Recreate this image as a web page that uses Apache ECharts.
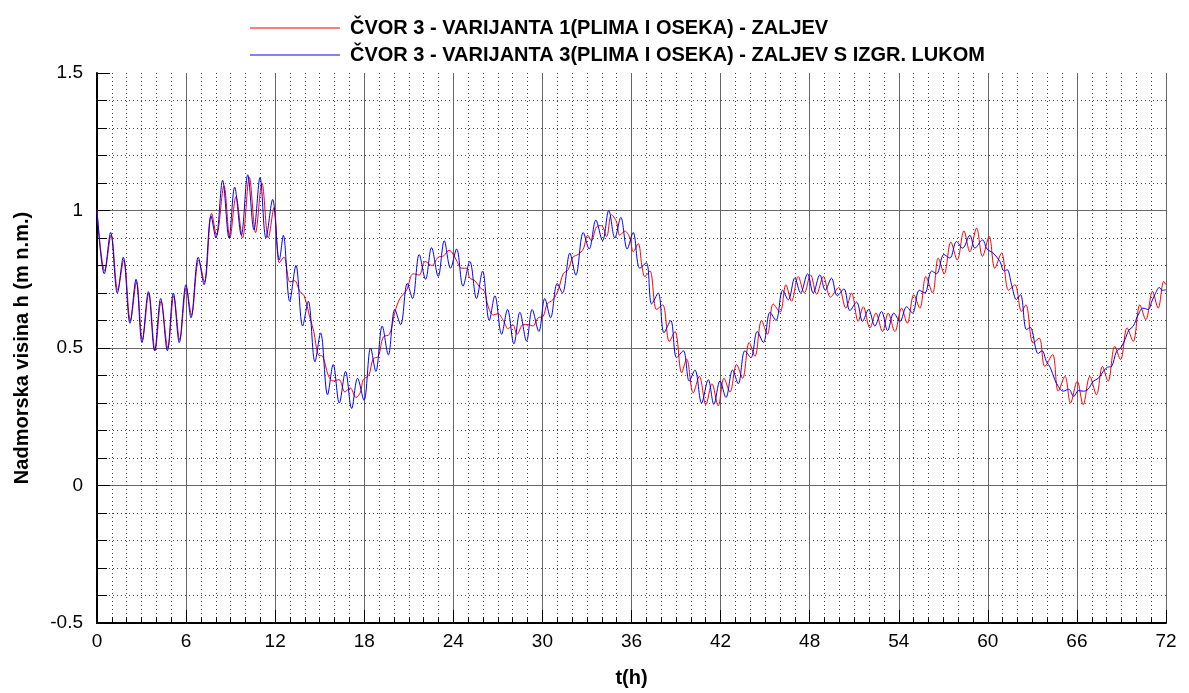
<!DOCTYPE html>
<html>
<head>
<meta charset="utf-8">
<script src="https://cdn.jsdelivr.net/npm/echarts@6/dist/echarts.min.js"></script>
<style>
html,body{margin:0;padding:0;background:#fff;}
#chart{width:1189px;height:693px;}
</style>
</head>
<body>
<div id="chart"></div>
<script>
// Legend / series names
const seriesNames = [
  'ČVOR 3 - VARIJANTA 1(PLIMA I OSEKA) - ZALJEV',
  'ČVOR 3 - VARIJANTA 3(PLIMA I OSEKA) - ZALJEV S IZGR. LUKOM'
];
const xTitle = 't(h)';
const yTitle = 'Nadmorska visina h (m n.m.)';

// Red series: [t (h), h (m n.m.)]
const redData = [
  [0.0,1.0],[0.52,0.78],[0.95,0.91],[1.40,0.71],[1.80,0.82],[2.25,0.60],[2.66,0.74],[3.06,0.53],
  [3.49,0.70],[3.91,0.49],[4.32,0.67],[4.77,0.50],[5.17,0.69],[5.57,0.53],[6.02,0.72],[6.36,0.62],
  [6.85,0.82],[7.24,0.74],[7.72,0.99],[8.05,0.91],[8.55,1.09],[8.95,0.90],[9.36,1.05],[9.80,0.90],
  [10.26,1.12],[10.68,0.92],[11.11,1.10],[11.54,0.90],[11.92,1.01],[12.28,0.81],[12.59,0.83],[13.0,0.74],
  [13.3,0.745],[13.67,0.705],[13.95,0.69],[14.34,0.61],[14.6,0.56],[14.9,0.475],[15.2,0.47],[15.58,0.40],
  [15.91,0.38],[16.3,0.385],[16.7,0.34],[17.05,0.355],[17.44,0.32],[17.75,0.34],[17.93,0.385],[18.3,0.40],
  [18.6,0.46],[18.95,0.47],[19.28,0.54],[19.7,0.55],[20.06,0.63],[20.4,0.68],[20.85,0.71],[21.3,0.77],
  [21.7,0.765],[22.1,0.815],[22.55,0.80],[22.98,0.83],[23.35,0.835],[23.7,0.855],[23.88,0.85],[24.2,0.82],
  [24.55,0.79],[24.9,0.79],[25.1,0.755],[25.45,0.745],[25.79,0.72],[26.1,0.705],[26.35,0.65],[26.7,0.62],
  [27.0,0.625],[27.36,0.60],[27.7,0.57],[28.0,0.585],[28.3,0.55],[28.7,0.585],[29.04,0.585],[29.35,0.58],
  [29.72,0.61],[30.05,0.615],[30.32,0.66],[30.7,0.675],[31.06,0.71],[31.4,0.77],[31.74,0.785],[32.05,0.83],
  [32.4,0.84],[32.75,0.86],[33.05,0.91],[33.3,0.89],[33.64,0.94],[33.98,0.945],[34.32,0.905],[34.65,0.985],
  [34.98,0.96],[35.21,0.91],[35.55,0.925],[35.89,0.90],[36.12,0.85],[36.45,0.88],[36.7,0.80],[36.9,0.76],
  [37.24,0.78],[37.69,0.64],[38.1,0.657],[38.55,0.524],[38.93,0.56],[39.38,0.41],[39.71,0.46],[40.16,0.337],
  [40.57,0.397],[41.01,0.294],[41.42,0.37],[41.84,0.29],[42.23,0.39],[42.63,0.34],[43.08,0.44],[43.48,0.39],
  [43.93,0.52],[44.31,0.47],[44.76,0.60],[45.15,0.55],[45.55,0.66],[46.0,0.63],[46.4,0.73],[46.78,0.67],
  [47.23,0.76],[47.64,0.70],[48.06,0.766],[48.47,0.696],[48.92,0.76],[49.4,0.685],[49.95,0.72],[50.44,0.645],
  [50.82,0.70],[51.27,0.597],[51.61,0.65],[52.06,0.573],[52.46,0.627],[52.91,0.56],[53.29,0.627],[53.74,0.56],
  [54.19,0.645],[54.57,0.59],[55.02,0.694],[55.42,0.645],[55.83,0.76],[56.28,0.70],[56.66,0.827],[57.06,0.77],
  [57.51,0.885],[57.94,0.82],[58.39,0.926],[58.79,0.85],[59.24,0.936],[59.64,0.833],[60.09,0.906],[60.47,0.79],
  [60.92,0.845],[61.4,0.71],[61.82,0.73],[62.27,0.633],[62.56,0.657],[63.05,0.518],[63.46,0.536],[63.84,0.433],
  [64.36,0.476],[64.74,0.343],[65.19,0.397],[65.57,0.30],[66.02,0.379],[66.42,0.294],[66.87,0.397],[67.32,0.33],
  [67.72,0.433],[68.1,0.379],[68.55,0.506],[68.94,0.458],[69.38,0.573],[69.79,0.524],[70.24,0.657],[70.64,0.603],
  [71.09,0.706],[71.47,0.645],[71.85,0.742],[72.0,0.73]
];

// Blue series: [t (h), h (m n.m.)]
const blueData = [
  [0.0,1.0],[0.49,0.77],[0.92,0.92],[1.37,0.70],[1.77,0.83],[2.22,0.59],[2.63,0.75],[3.03,0.52],
  [3.46,0.705],[3.88,0.49],[4.29,0.68],[4.74,0.49],[5.14,0.70],[5.54,0.52],[5.99,0.73],[6.33,0.61],
  [6.82,0.83],[7.21,0.73],[7.68,0.98],[8.01,0.90],[8.46,1.11],[8.89,0.90],[9.27,1.085],[9.72,0.91],
  [10.15,1.13],[10.57,0.93],[10.98,1.12],[11.38,0.90],[11.83,1.04],[12.28,0.82],[12.55,0.91],[12.98,0.67],
  [13.40,0.80],[13.85,0.58],[14.23,0.67],[14.68,0.45],[15.06,0.555],[15.53,0.33],[15.91,0.44],[16.32,0.30],
  [16.74,0.415],[17.15,0.28],[17.55,0.39],[17.98,0.31],[18.43,0.50],[18.78,0.415],[19.21,0.58],[19.62,0.475],
  [20.06,0.64],[20.45,0.585],[20.90,0.735],[21.25,0.68],[21.70,0.84],[22.13,0.75],[22.53,0.865],[22.98,0.76],
  [23.39,0.89],[23.81,0.79],[24.22,0.86],[24.65,0.725],[25.11,0.815],[25.56,0.68],[25.97,0.78],[26.42,0.60],
  [26.80,0.69],[27.25,0.55],[27.65,0.64],[28.08,0.515],[28.48,0.63],[28.93,0.525],[29.31,0.64],[29.76,0.56],
  [30.16,0.68],[30.55,0.61],[31.0,0.735],[31.35,0.70],[31.85,0.845],[32.25,0.765],[32.75,0.92],[33.15,0.86],
  [33.60,0.965],[34.05,0.89],[34.47,1.0],[34.88,0.90],[35.28,0.975],[35.71,0.86],[36.11,0.92],[36.56,0.79],
  [37.0,0.81],[37.36,0.66],[37.8,0.70],[38.19,0.555],[38.64,0.60],[39.04,0.465],[39.49,0.49],[39.89,0.38],
  [40.27,0.42],[40.72,0.30],[41.17,0.385],[41.55,0.295],[41.96,0.38],[42.36,0.32],[42.81,0.42],[43.19,0.37],
  [43.64,0.49],[44.04,0.465],[44.47,0.56],[44.88,0.52],[45.33,0.63],[45.73,0.60],[46.18,0.71],[46.56,0.675],
  [47.0,0.755],[47.39,0.70],[47.86,0.77],[48.24,0.70],[48.69,0.766],[49.05,0.71],[49.47,0.754],[49.86,0.69],
  [50.31,0.715],[50.71,0.636],[51.16,0.667],[51.56,0.597],[51.97,0.64],[52.39,0.58],[52.84,0.633],[53.25,0.563],
  [53.67,0.627],[54.08,0.597],[54.53,0.65],[54.93,0.627],[55.38,0.71],[55.76,0.70],[56.21,0.78],[56.55,0.77],
  [57.04,0.84],[57.44,0.827],[57.89,0.887],[58.3,0.863],[58.79,0.91],[59.13,0.863],[59.64,0.893],[59.95,0.86],
  [60.36,0.845],[60.81,0.815],[61.1,0.78],[61.3,0.785],[61.6,0.73],[61.93,0.676],[62.2,0.694],[62.6,0.567],
  [62.85,0.575],[63.39,0.48],[63.65,0.49],[63.95,0.45],[64.2,0.43],[64.51,0.385],[64.75,0.36],[65.08,0.343],
  [65.45,0.35],[65.79,0.324],[66.1,0.345],[66.42,0.343],[66.75,0.35],[67.1,0.379],[67.45,0.39],[67.77,0.415],
  [68.05,0.43],[68.33,0.433],[68.67,0.488],[68.95,0.50],[69.23,0.53],[69.5,0.565],[69.79,0.579],[70.12,0.62],
  [70.45,0.645],[70.8,0.64],[71.05,0.67],[71.25,0.694],[71.55,0.72],[71.75,0.71],[72.0,0.712]
];

const seriesColors = ['#ff0000', '#0000ff'];

const FONT = '"Liberation Sans", Arial, sans-serif';
const chart = echarts.init(document.getElementById('chart'), null, {renderer: 'canvas'});

chart.setOption({
  animation: false,
  backgroundColor: '#ffffff',
  legend: {
    orient: 'vertical',
    left: 245,
    top: 13,
    itemWidth: 90,
    itemHeight: 1,
    itemGap: 7,
    icon: 'rect',
    selectedMode: false,
    textStyle: {
      fontFamily: FONT,
      fontSize: 20,
      fontWeight: 'bold',
      color: '#000',
      lineHeight: 20,
      padding: [0, 0, 0, 5]
    },
    data: seriesNames
  },
  grid: {left: 97, right: 23, top: 73, bottom: 66, containLabel: false},
  xAxis: {
    type: 'value',
    min: 0, max: 72, interval: 6,
    name: xTitle,
    nameLocation: 'middle',
    nameGap: 45,
    nameTextStyle: {fontFamily: FONT, fontSize: 20, fontWeight: 'bold', color: '#000'},
    axisLine: {show: true, onZero: false, lineStyle: {color: '#000', width: 2}},
    axisTick: {show: true, inside: true, length: 13, lineStyle: {color: '#000', width: 1}},
    minorTick: {show: true, splitNumber: 6, length: 6, lineStyle: {color: '#000', width: 1}},
    axisLabel: {fontFamily: FONT, fontSize: 19, color: '#000', margin: 9},
    splitLine: {show: true, lineStyle: {color: '#666', width: 1}},
    minorSplitLine: {show: true, lineStyle: {color: '#444', width: 1, type: [1, 3]}}
  },
  yAxis: {
    type: 'value',
    min: -0.5, max: 1.5, interval: 0.5,
    name: yTitle,
    nameLocation: 'middle',
    nameGap: 65,
    nameRotate: 90,
    nameTextStyle: {fontFamily: FONT, fontSize: 20, fontWeight: 'bold', color: '#000'},
    axisLine: {show: true, onZero: false, lineStyle: {color: '#000', width: 2}},
    axisTick: {show: true, inside: true, length: 13, lineStyle: {color: '#000', width: 1}},
    minorTick: {show: true, splitNumber: 5, length: 10, lineStyle: {color: '#000', width: 1}},
    axisLabel: {fontFamily: FONT, fontSize: 19, color: '#000', margin: 14},
    splitLine: {show: true, showMaxLine: false, lineStyle: {color: '#666', width: 1}},
    minorSplitLine: {show: true, lineStyle: {color: '#444', width: 1, type: [1, 3]}}
  },
  series: [
    {
      name: seriesNames[0],
      type: 'line',
      data: redData,
      showSymbol: false,
      smooth: 0.35,
      color: seriesColors[0],
      lineStyle: {color: seriesColors[0], width: 1}
    },
    {
      name: seriesNames[1],
      type: 'line',
      data: blueData,
      showSymbol: false,
      smooth: 0.35,
      color: seriesColors[1],
      lineStyle: {color: seriesColors[1], width: 1}
    }
  ]
});
</script>
</body>
</html>
